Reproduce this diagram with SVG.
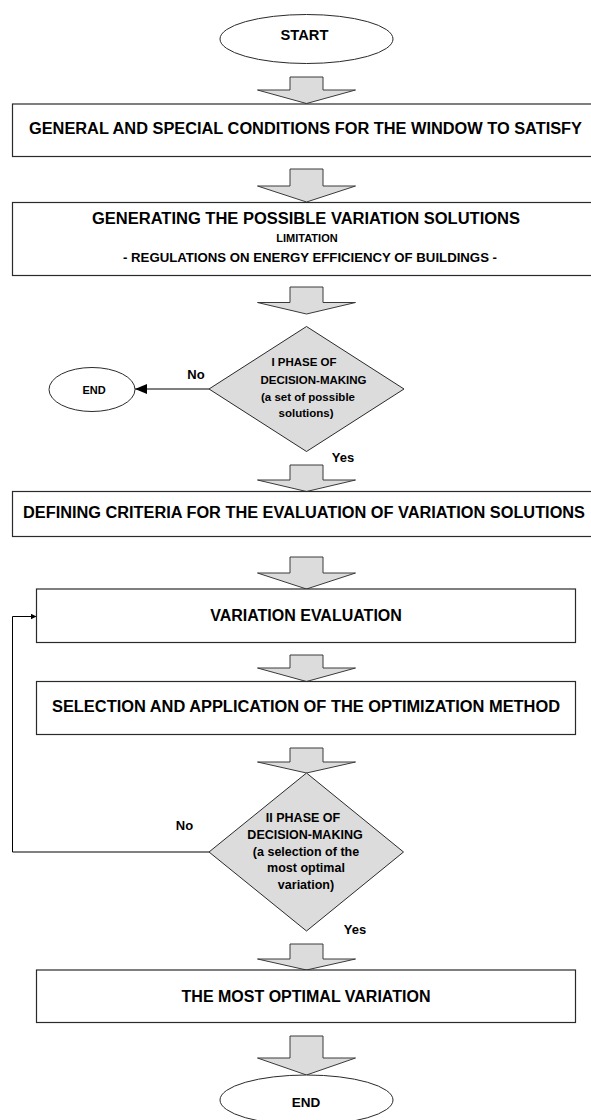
<svg xmlns="http://www.w3.org/2000/svg" width="591" height="1120" viewBox="0 0 591 1120">
<defs>
<style>
.bg{fill:#ffffff}
.box{fill:#ffffff;stroke:#2a2a2a;stroke-width:1.2}
.term{fill:#ffffff;stroke:#2a2a2a;stroke-width:1}
.dia{fill:#dcdcdc;stroke:#2a2a2a;stroke-width:1}
.blk{fill:#dcdcdc;stroke:#3a3a3a;stroke-width:1}
.conn{fill:none;stroke:#000000;stroke-width:1}
text{font-family:"Liberation Sans",Arial,sans-serif;font-weight:bold;fill:#000000;text-anchor:middle}
.t16{font-size:16px}
.t13{font-size:13px}
.t12{font-size:12.5px}
.t11{font-size:11.5px}
</style>
<marker id="ah" viewBox="0 0 12 10" refX="12" refY="5" markerWidth="12" markerHeight="10" markerUnits="userSpaceOnUse" orient="auto">
<path d="M0,0 L12,5 L0,10 Z" fill="#000000"/>
</marker>
<marker id="ahs" viewBox="0 0 6 6" refX="6" refY="3" markerWidth="6" markerHeight="6" markerUnits="userSpaceOnUse" orient="auto">
<path d="M0,0 L6,3 L0,6 Z" fill="#000000"/>
</marker>
</defs>
<rect class="bg" x="0" y="0" width="591" height="1120"/>

<g id="connectors">
<polyline class="conn" points="209,389 135,389" marker-end="url(#ah)"/>
<polyline class="conn" points="209,852 12.5,852 12.5,616.5 36.5,616.5" marker-end="url(#ahs)"/>
<path class="blk" d="M290,77 H323 V90 H355.5 L306.5,103.5 L257.5,90 H290 Z"/>
<path class="blk" d="M290,169 H323 V186 H355.5 L306.5,202 L257.5,186 H290 Z"/>
<path class="blk" d="M290,287 H323 V302.5 H355.5 L306.5,314 L257.5,302.5 H290 Z"/>
<path class="blk" d="M290,465 H323 V480 H355.5 L306.5,491.5 L257.5,480 H290 Z"/>
<path class="blk" d="M290,557 H323 V573 H355.5 L306.5,589 L257.5,573 H290 Z"/>
<path class="blk" d="M290,655 H323 V668 H355.5 L306.5,681.5 L257.5,668 H290 Z"/>
<path class="blk" d="M290,748 H323 V762 H355.5 L306.5,773 L257.5,762 H290 Z"/>
<path class="blk" d="M290,944 H323 V959 H355.5 L306.5,970 L257.5,959 H290 Z"/>
<path class="blk" d="M290,1036 H323 V1058 H355.5 L306.5,1075 L257.5,1058 H290 Z"/>
<text class="t13" x="196" y="379">No</text>
<text class="t13" x="343" y="462">Yes</text>
<text class="t13" x="184.5" y="830">No</text>
<text class="t13" x="355" y="934">Yes</text>
</g>

<g id="start">
<ellipse class="term" cx="306.5" cy="39" rx="86.5" ry="24.5"/>
<text style="font-size:14.7px" x="304.5" y="39.5">START</text>
</g>

<g id="conditions">
<rect class="box" x="12.5" y="104" width="600" height="52.5"/>
<text class="t16" x="305.5" y="133.5" textLength="553" lengthAdjust="spacingAndGlyphs">GENERAL AND SPECIAL CONDITIONS FOR THE WINDOW TO SATISFY</text>
</g>

<g id="generating">
<rect class="box" x="12.5" y="202.5" width="600" height="73"/>
<text class="t16" x="306" y="223.5" textLength="428" lengthAdjust="spacingAndGlyphs">GENERATING THE POSSIBLE VARIATION SOLUTIONS</text>
<text style="font-size:11px" x="307" y="242">LIMITATION</text>
<text class="t13" x="310" y="262" textLength="374" lengthAdjust="spacingAndGlyphs">- REGULATIONS ON ENERGY EFFICIENCY OF BUILDINGS -</text>
</g>

<g id="decision1">
<polygon class="dia" points="306.5,326.5 404,389 306.5,451.5 209,389"/>
<text class="t11" x="304" y="366">I PHASE OF</text>
<text class="t11" x="313.5" y="383.5">DECISION-MAKING</text>
<text class="t11" x="308" y="400.5">(a set of possible</text>
<text class="t11" x="306" y="417">solutions)</text>
</g>

<g id="end1">
<ellipse class="term" cx="92" cy="389.5" rx="43" ry="22"/>
<text style="font-size:11px" x="94" y="393.5">END</text>
</g>

<g id="criteria">
<rect class="box" x="12.5" y="491.5" width="600" height="45"/>
<text class="t16" x="304" y="518" textLength="562" lengthAdjust="spacingAndGlyphs">DEFINING CRITERIA FOR THE EVALUATION OF VARIATION SOLUTIONS</text>
</g>

<g id="evaluation">
<rect class="box" x="36.5" y="589" width="539" height="53.5"/>
<text class="t16" x="306" y="621">VARIATION EVALUATION</text>
</g>

<g id="optimization">
<rect class="box" x="36.5" y="681.5" width="539" height="53"/>
<text class="t16" x="306" y="712" textLength="508" lengthAdjust="spacingAndGlyphs">SELECTION AND APPLICATION OF THE OPTIMIZATION METHOD</text>
</g>

<g id="decision2">
<polygon class="dia" points="306.5,773 403.5,852 306.5,931 209,852"/>
<text class="t12" x="303" y="822">II PHASE OF</text>
<text class="t12" x="305" y="838.5">DECISION-MAKING</text>
<text class="t12" x="306" y="855.5">(a selection of the</text>
<text class="t12" x="306" y="872">most optimal</text>
<text class="t12" x="306" y="888.5">variation)</text>
</g>

<g id="optimal">
<rect class="box" x="36.5" y="970" width="539" height="52.5"/>
<text class="t16" x="306" y="1002">THE MOST OPTIMAL VARIATION</text>
</g>

<g id="end2">
<ellipse class="term" cx="306.5" cy="1100" rx="86.5" ry="25"/>
<text style="font-size:13.5px" x="306" y="1106.5">END</text>
</g>
</svg>
